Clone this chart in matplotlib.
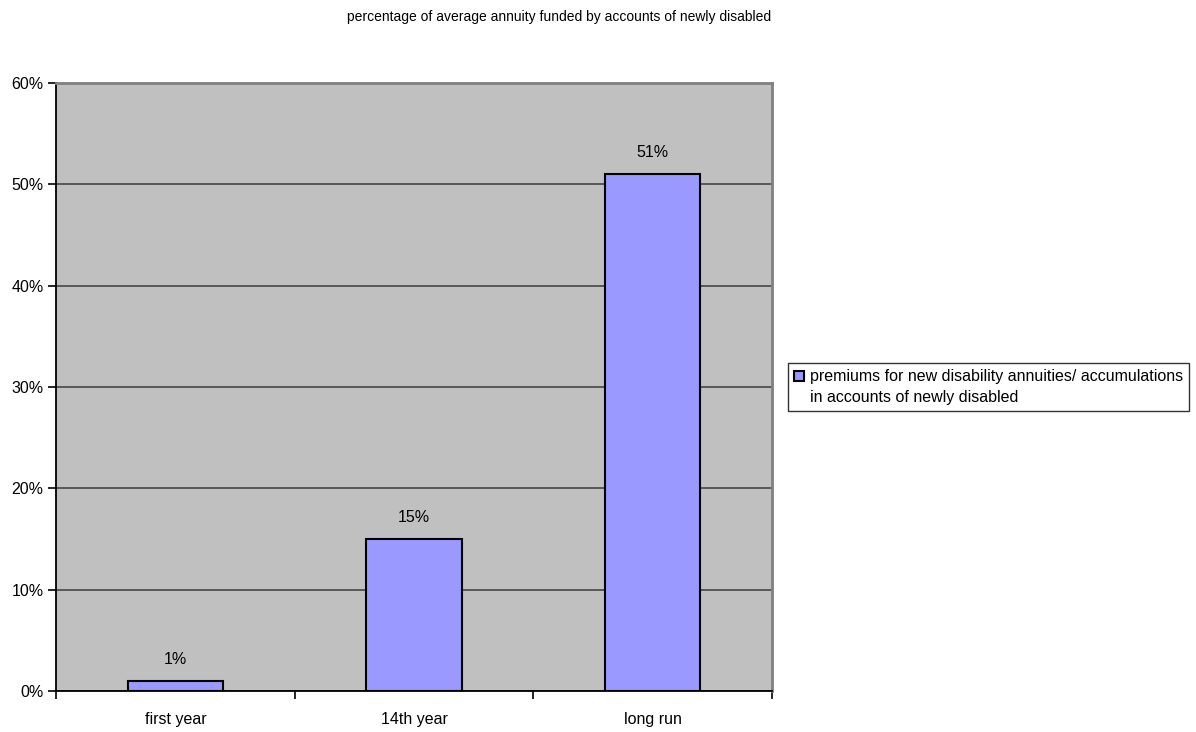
import matplotlib.pyplot as plt
from matplotlib.patches import Rectangle
from matplotlib.legend_handler import HandlerPatch
from matplotlib.ticker import FixedLocator, PercentFormatter

plt.rcParams['font.family'] = ['Liberation Sans', 'DejaVu Sans']

categories = ['first year', '14th year', 'long run']
shares = [1, 15, 51]
yticks = [0, 10, 20, 30, 40, 50, 60]
series_name = 'premiums for new disability annuities/ accumulations\nin accounts of newly disabled'
title = 'percentage of average annuity funded by accounts of newly disabled'

bar_color = '#9999ff'

fig = plt.figure(figsize=(11.96, 7.32), dpi=100)
ax = fig.add_axes([56/1196, 41/732, 716/1196, 608/732])
ax.set_facecolor('#c0c0c0')

x = list(range(len(categories)))
ax.bar(x, shares, width=0.4, color=bar_color, edgecolor='black',
       linewidth=1.5, zorder=3)
for xi, v in zip(x, shares):
    ax.annotate(f'{v}%', (xi, v), xytext=(0, 10), textcoords='offset points',
                ha='center', va='bottom', fontsize=11.5)

ax.set_xlim(-0.5, len(categories) - 0.5)
ax.set_ylim(0, 60)
ax.set_yticks(yticks)
ax.yaxis.set_major_formatter(PercentFormatter(decimals=0))
ax.set_xticks(x)
ax.set_xticklabels(categories)
ax.xaxis.set_minor_locator(FixedLocator([i + 0.5 for i in range(-1, len(categories))]))
ax.tick_params(axis='x', which='major', length=0, pad=15, labelsize=11.5)
ax.tick_params(axis='x', which='minor', length=6, width=1.2, direction='out', color='black')
ax.tick_params(axis='y', length=6, width=1.2, direction='out', labelsize=11.5, pad=3)

ax.grid(axis='y', color='#505050', linewidth=1.3, zorder=1)
for side in ['left', 'bottom']:
    ax.spines[side].set_color('black')
    ax.spines[side].set_linewidth(1.3)
for side in ['top', 'right']:
    ax.spines[side].set_color('#808080')
    ax.spines[side].set_linewidth(2)

fig.text(559/1196, 1 - 17/732, title, ha='center', va='center', fontsize=10)


# legend square sits beside the first line of the two-line label
def top_square(legend, orig_handle, xdescent, ydescent, width, height, fontsize):
    size = 0.6 * fontsize
    y0 = -ydescent + (height - size) / 2 + 0.72 * fontsize
    return Rectangle((-xdescent, y0), size, size)


proxy = Rectangle((0, 0), 1, 1, facecolor=bar_color, edgecolor='black', linewidth=1.5)
leg = ax.legend([proxy], [series_name], loc='center left',
                bbox_to_anchor=(788/1196, 1 - 387/732),
                bbox_transform=fig.transFigure, fontsize=11.5, frameon=True,
                fancybox=False, edgecolor='black', handlelength=0.6,
                handleheight=0.6, handletextpad=0.35, borderpad=0.4,
                borderaxespad=0,
                handler_map={proxy: HandlerPatch(patch_func=top_square)})
leg.get_frame().set_linewidth(1.0)
leg.get_texts()[0].set_linespacing(1.45)

plt.savefig('out.png', dpi=100)
